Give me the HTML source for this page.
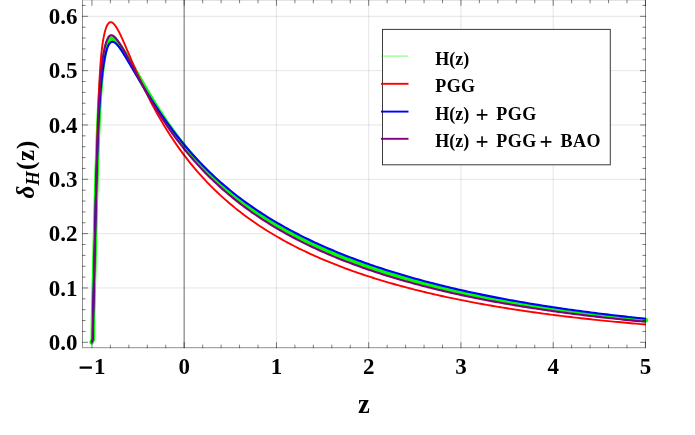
<!DOCTYPE html>
<html><head><meta charset="utf-8"><title>plot</title>
<style>html,body{margin:0;padding:0;background:#fff;overflow:hidden}body{width:695px;height:435px;position:relative;font-family:"Liberation Serif",serif}</style>
</head><body>
<svg width="695" height="435" viewBox="0 0 695 435" style="will-change:transform;position:absolute;left:0;top:0;font-family:'Liberation Serif',serif;font-weight:bold">
<rect width="695" height="435" fill="#fff"/>
<line x1="276.45" y1="0" x2="276.45" y2="347.7" stroke="#000" stroke-opacity="0.105" stroke-width="1"/>
<line x1="368.70" y1="0" x2="368.70" y2="347.7" stroke="#000" stroke-opacity="0.105" stroke-width="1"/>
<line x1="460.95" y1="0" x2="460.95" y2="347.7" stroke="#000" stroke-opacity="0.105" stroke-width="1"/>
<line x1="553.20" y1="0" x2="553.20" y2="347.7" stroke="#000" stroke-opacity="0.105" stroke-width="1"/>
<line x1="82.5" y1="287.97" x2="645.5" y2="287.97" stroke="#000" stroke-opacity="0.105" stroke-width="1"/>
<line x1="82.5" y1="233.64" x2="645.5" y2="233.64" stroke="#000" stroke-opacity="0.105" stroke-width="1"/>
<line x1="82.5" y1="179.31" x2="645.5" y2="179.31" stroke="#000" stroke-opacity="0.105" stroke-width="1"/>
<line x1="82.5" y1="124.98" x2="645.5" y2="124.98" stroke="#000" stroke-opacity="0.105" stroke-width="1"/>
<line x1="82.5" y1="70.65" x2="645.5" y2="70.65" stroke="#000" stroke-opacity="0.105" stroke-width="1"/>
<line x1="82.5" y1="16.32" x2="645.5" y2="16.32" stroke="#000" stroke-opacity="0.105" stroke-width="1"/>
<path d="M91.60,342.30 L92.80,339.60 L92.81,338.37 L92.84,336.46 L92.86,334.33 L92.89,332.00 L92.92,329.49 L92.95,326.81 L92.99,323.98 L93.02,321.02 L93.06,317.93 L93.10,314.72 L93.17,311.41 L93.26,308.00 L93.36,304.51 L93.45,300.93 L93.54,297.29 L93.64,293.58 L93.73,289.82 L93.83,286.01 L93.92,282.16 L94.01,278.27 L94.11,274.35 L94.20,270.42 L94.30,266.46 L94.39,262.49 L94.48,258.52 L94.58,254.54 L94.67,250.57 L94.76,246.60 L94.86,242.64 L94.95,238.71 L95.05,234.79 L95.14,230.89 L95.23,227.02 L95.33,223.18 L95.42,219.37 L95.51,215.59 L95.61,211.86 L95.70,208.16 L95.80,204.51 L95.89,200.90 L95.98,197.34 L96.08,193.83 L96.17,190.36 L96.27,186.95 L96.36,183.59 L96.45,180.28 L96.55,177.02 L96.64,173.82 L96.73,170.68 L96.83,167.59 L96.92,164.56 L97.02,161.59 L97.11,158.67 L97.20,155.82 L97.30,153.01 L97.39,150.27 L97.48,147.58 L97.80,139.02 L98.11,131.08 L98.42,123.73 L98.74,116.96 L99.05,110.72 L99.36,104.99 L99.68,99.72 L99.99,94.88 L100.30,90.43 L100.62,86.34 L100.93,82.57 L101.24,79.10 L101.56,75.88 L101.87,72.90 L102.18,70.14 L102.50,67.56 L102.81,65.16 L103.12,62.91 L103.44,60.81 L103.75,58.83 L104.06,56.98 L104.38,55.24 L104.69,53.61 L105.00,52.07 L105.32,50.64 L105.63,49.30 L105.94,48.04 L106.26,46.88 L106.57,45.80 L106.88,44.81 L107.20,43.90 L107.51,43.06 L107.82,42.31 L108.14,41.63 L108.45,41.03 L108.76,40.50 L109.08,40.03 L109.39,39.64 L109.70,39.30 L110.02,39.03 L110.33,38.81 L110.64,38.64 L110.96,38.53 L111.27,38.46 L111.58,38.44 L111.90,38.45 L112.21,38.51 L112.52,38.60 L112.84,38.72 L113.15,38.86 L113.46,39.04 L113.78,39.24 L114.09,39.46 L114.40,39.70 L114.72,39.96 L115.03,40.23 L115.34,40.52 L115.66,40.83 L115.97,41.15 L116.28,41.48 L116.60,41.82 L116.91,42.17 L117.22,42.53 L117.54,42.90 L117.85,43.27 L118.16,43.66 L118.48,44.05 L118.79,44.45 L119.10,44.86 L119.42,45.27 L119.73,45.69 L120.04,46.11 L120.36,46.54 L120.67,46.98 L120.98,47.42 L121.30,47.87 L121.61,48.32 L121.92,48.78 L122.24,49.24 L122.55,49.70 L122.86,50.17 L123.18,50.65 L123.49,51.12 L123.80,51.60 L124.12,52.09 L124.43,52.58 L124.74,53.07 L125.06,53.56 L125.37,54.06 L125.68,54.56 L126.00,55.07 L126.31,55.58 L126.62,56.08 L126.94,56.60 L127.25,57.11 L127.56,57.63 L127.88,58.15 L128.19,58.67 L128.50,59.19 L128.82,59.72 L129.13,60.24 L129.44,60.77 L129.76,61.30 L130.07,61.84 L130.38,62.37 L130.69,62.90 L131.01,63.44 L131.32,63.98 L131.63,64.52 L131.95,65.06 L132.26,65.60 L132.57,66.14 L132.89,66.68 L133.20,67.22 L133.51,67.77 L133.83,68.31 L134.14,68.86 L134.45,69.40 L134.77,69.95 L135.08,70.50 L135.39,71.04 L135.71,71.59 L136.02,72.14 L136.33,72.69 L136.65,73.24 L136.96,73.78 L137.27,74.33 L137.59,74.88 L137.90,75.43 L138.21,75.98 L138.53,76.53 L138.84,77.08 L139.15,77.62 L139.47,78.17 L139.78,78.72 L140.09,79.27 L140.41,79.81 L140.72,80.36 L141.03,80.91 L141.35,81.45 L141.66,82.00 L141.97,82.54 L142.29,83.09 L142.60,83.63 L142.91,84.17 L143.23,84.72 L143.54,85.26 L143.85,85.80 L144.17,86.34 L144.48,86.88 L144.79,87.42 L145.11,87.96 L145.42,88.50 L145.73,89.03 L146.05,89.57 L146.36,90.11 L146.67,90.64 L146.99,91.17 L147.30,91.71 L149.81,95.93 L152.31,100.09 L154.82,104.18 L157.32,108.19 L159.83,112.13 L162.33,115.98 L164.84,119.75 L167.34,123.43 L169.85,127.04 L172.36,130.56 L174.86,134.01 L177.37,137.37 L179.87,140.65 L182.38,143.86 L184.88,147.00 L187.39,150.06 L189.89,153.05 L192.40,155.97 L194.91,158.83 L197.41,161.62 L199.92,164.35 L202.42,167.01 L204.93,169.62 L207.43,172.17 L209.94,174.66 L212.45,177.10 L214.95,179.48 L217.46,181.82 L219.96,184.10 L222.47,186.34 L224.97,188.53 L227.48,190.68 L229.98,192.78 L232.49,194.84 L235.00,196.86 L237.50,198.84 L240.01,200.78 L242.51,202.69 L245.02,204.56 L247.52,206.39 L250.03,208.19 L252.53,209.95 L255.04,211.68 L257.55,213.39 L260.05,215.06 L262.56,216.70 L265.06,218.31 L267.57,219.89 L270.07,221.45 L272.58,222.98 L275.08,224.49 L277.59,225.97 L280.10,227.42 L282.60,228.85 L285.11,230.26 L287.61,231.64 L290.12,233.01 L292.62,234.35 L295.13,235.67 L297.64,236.97 L300.14,238.25 L302.65,239.51 L305.15,240.75 L307.66,241.97 L310.16,243.17 L312.67,244.36 L315.17,245.53 L317.68,246.68 L320.19,247.82 L322.69,248.93 L325.20,250.04 L327.70,251.12 L330.21,252.20 L332.71,253.25 L335.22,254.29 L337.72,255.32 L340.23,256.33 L342.74,257.33 L345.24,258.32 L347.75,259.29 L350.25,260.25 L352.76,261.20 L355.26,262.13 L357.77,263.05 L360.27,263.96 L362.78,264.86 L365.29,265.75 L367.79,266.62 L370.30,267.49 L372.80,268.34 L375.31,269.18 L377.81,270.01 L380.32,270.83 L382.82,271.64 L385.33,272.44 L387.84,273.23 L390.34,274.01 L392.85,274.78 L395.35,275.55 L397.86,276.30 L400.36,277.04 L402.87,277.77 L405.38,278.50 L407.88,279.21 L410.39,279.92 L412.89,280.62 L415.40,281.31 L417.90,281.99 L420.41,282.66 L422.91,283.33 L425.42,283.99 L427.93,284.64 L430.43,285.28 L432.94,285.92 L435.44,286.54 L437.95,287.16 L440.45,287.78 L442.96,288.38 L445.46,288.98 L447.97,289.57 L450.48,290.16 L452.98,290.73 L455.49,291.31 L457.99,291.87 L460.50,292.43 L463.00,292.98 L465.51,293.52 L468.01,294.06 L470.52,294.60 L473.03,295.12 L475.53,295.64 L478.04,296.16 L480.54,296.67 L483.05,297.17 L485.55,297.67 L488.06,298.16 L490.57,298.65 L493.07,299.13 L495.58,299.60 L498.08,300.07 L500.59,300.54 L503.09,301.00 L505.60,301.45 L508.10,301.90 L510.61,302.34 L513.12,302.78 L515.62,303.22 L518.13,303.65 L520.63,304.07 L523.14,304.49 L525.64,304.91 L528.15,305.32 L530.65,305.72 L533.16,306.12 L535.67,306.52 L538.17,306.91 L540.68,307.30 L543.18,307.69 L545.69,308.07 L548.19,308.44 L550.70,308.81 L553.20,309.18 L555.71,309.54 L558.22,309.90 L560.72,310.26 L563.23,310.61 L565.73,310.95 L568.24,311.30 L570.74,311.64 L573.25,311.97 L575.75,312.30 L578.26,312.63 L580.77,312.96 L583.27,313.28 L585.78,313.60 L588.28,313.91 L590.79,314.22 L593.29,314.53 L595.80,314.83 L598.31,315.13 L600.81,315.43 L603.32,315.72 L605.82,316.01 L608.33,316.30 L610.83,316.59 L613.34,316.87 L615.84,317.15 L618.35,317.42 L620.86,317.69 L623.36,317.96 L625.87,318.23 L628.37,318.49 L630.88,318.75 L633.38,319.01 L635.89,319.26 L638.39,319.51 L640.90,319.76 L643.41,320.01 L645.91,320.25" fill="none" stroke="#00ff00" stroke-width="4.5" stroke-linecap="round" stroke-linejoin="round"/>
<path d="M91.60,342.30 L92.80,339.60 L92.81,338.38 L92.84,336.49 L92.86,334.43 L92.89,332.21 L92.92,329.85 L92.95,327.36 L92.98,324.74 L93.01,322.01 L93.04,319.15 L93.08,316.19 L93.17,313.12 L93.26,309.95 L93.36,306.68 L93.45,303.32 L93.54,299.87 L93.64,296.33 L93.73,292.71 L93.83,289.01 L93.92,285.24 L94.01,281.40 L94.11,277.49 L94.20,273.53 L94.30,269.51 L94.39,265.43 L94.48,261.32 L94.58,257.16 L94.67,252.97 L94.76,248.74 L94.86,244.49 L94.95,240.22 L95.05,235.93 L95.14,231.63 L95.23,227.32 L95.33,223.01 L95.42,218.71 L95.51,214.41 L95.61,210.13 L95.70,205.86 L95.80,201.62 L95.89,197.40 L95.98,193.21 L96.08,189.06 L96.17,184.94 L96.27,180.87 L96.36,176.84 L96.45,172.86 L96.55,168.93 L96.64,165.05 L96.73,161.23 L96.83,157.48 L96.92,153.78 L97.02,150.15 L97.11,146.58 L97.20,143.08 L97.30,139.65 L97.39,136.29 L97.48,133.00 L97.80,122.55 L98.11,112.92 L98.42,104.12 L98.74,96.11 L99.05,88.87 L99.36,82.34 L99.68,76.48 L99.99,71.23 L100.30,66.52 L100.62,62.29 L100.93,58.50 L101.24,55.08 L101.56,52.00 L101.87,49.21 L102.18,46.66 L102.50,44.34 L102.81,42.22 L103.12,40.26 L103.44,38.46 L103.75,36.81 L104.06,35.27 L104.38,33.86 L104.69,32.55 L105.00,31.34 L105.32,30.22 L105.63,29.20 L105.94,28.26 L106.26,27.40 L106.57,26.62 L106.88,25.91 L107.20,25.28 L107.51,24.71 L107.82,24.20 L108.14,23.76 L108.45,23.37 L108.76,23.05 L109.08,22.77 L109.39,22.55 L109.70,22.38 L110.02,22.26 L110.33,22.18 L110.64,22.15 L110.96,22.16 L111.27,22.20 L111.58,22.29 L111.90,22.41 L112.21,22.57 L112.52,22.76 L112.84,22.98 L113.15,23.23 L113.46,23.51 L113.78,23.82 L114.09,24.16 L114.40,24.52 L114.72,24.90 L115.03,25.30 L115.34,25.73 L115.66,26.18 L115.97,26.64 L116.28,27.13 L116.60,27.63 L116.91,28.14 L117.22,28.68 L117.54,29.23 L117.85,29.79 L118.16,30.36 L118.48,30.95 L118.79,31.55 L119.10,32.16 L119.42,32.78 L119.73,33.41 L120.04,34.05 L120.36,34.70 L120.67,35.36 L120.98,36.02 L121.30,36.69 L121.61,37.37 L121.92,38.05 L122.24,38.74 L122.55,39.44 L122.86,40.14 L123.18,40.84 L123.49,41.55 L123.80,42.26 L124.12,42.98 L124.43,43.70 L124.74,44.42 L125.06,45.15 L125.37,45.87 L125.68,46.60 L126.00,47.34 L126.31,48.07 L126.62,48.80 L126.94,49.54 L127.25,50.28 L127.56,51.01 L127.88,51.75 L128.19,52.49 L128.50,53.23 L128.82,53.97 L129.13,54.71 L129.44,55.45 L129.76,56.18 L130.07,56.92 L130.38,57.66 L130.69,58.40 L131.01,59.13 L131.32,59.87 L131.63,60.60 L131.95,61.33 L132.26,62.07 L132.57,62.80 L132.89,63.53 L133.20,64.25 L133.51,64.98 L133.83,65.71 L134.14,66.43 L134.45,67.15 L134.77,67.87 L135.08,68.59 L135.39,69.31 L135.71,70.02 L136.02,70.73 L136.33,71.44 L136.65,72.15 L136.96,72.86 L137.27,73.56 L137.59,74.27 L137.90,74.97 L138.21,75.67 L138.53,76.36 L138.84,77.06 L139.15,77.75 L139.47,78.44 L139.78,79.12 L140.09,79.81 L140.41,80.49 L140.72,81.17 L141.03,81.85 L141.35,82.53 L141.66,83.20 L141.97,83.87 L142.29,84.54 L142.60,85.21 L142.91,85.87 L143.23,86.54 L143.54,87.20 L143.85,87.85 L144.17,88.51 L144.48,89.16 L144.79,89.81 L145.11,90.46 L145.42,91.11 L145.73,91.75 L146.05,92.39 L146.36,93.03 L146.67,93.66 L146.99,94.30 L147.30,94.93 L149.81,99.90 L152.31,104.72 L154.82,109.40 L157.32,113.95 L159.83,118.36 L162.33,122.64 L164.84,126.80 L167.34,130.84 L169.85,134.77 L172.36,138.59 L174.86,142.30 L177.37,145.91 L179.87,149.42 L182.38,152.84 L184.88,156.17 L187.39,159.41 L189.89,162.57 L192.40,165.64 L194.91,168.64 L197.41,171.56 L199.92,174.41 L202.42,177.19 L204.93,179.90 L207.43,182.54 L209.94,185.12 L212.45,187.64 L214.95,190.10 L217.46,192.51 L219.96,194.85 L222.47,197.15 L224.97,199.39 L227.48,201.58 L229.98,203.73 L232.49,205.83 L235.00,207.88 L237.50,209.89 L240.01,211.85 L242.51,213.78 L245.02,215.66 L247.52,217.50 L250.03,219.31 L252.53,221.08 L255.04,222.82 L257.55,224.52 L260.05,226.19 L262.56,227.82 L265.06,229.43 L267.57,231.00 L270.07,232.55 L272.58,234.06 L275.08,235.55 L277.59,237.01 L280.10,238.44 L282.60,239.85 L285.11,241.23 L287.61,242.59 L290.12,243.92 L292.62,245.24 L295.13,246.52 L297.64,247.79 L300.14,249.04 L302.65,250.26 L305.15,251.46 L307.66,252.65 L310.16,253.81 L312.67,254.96 L315.17,256.08 L317.68,257.19 L320.19,258.29 L322.69,259.36 L325.20,260.42 L327.70,261.46 L330.21,262.48 L332.71,263.49 L335.22,264.49 L337.72,265.47 L340.23,266.43 L342.74,267.38 L345.24,268.32 L347.75,269.24 L350.25,270.15 L352.76,271.04 L355.26,271.92 L357.77,272.79 L360.27,273.65 L362.78,274.50 L365.29,275.33 L367.79,276.15 L370.30,276.96 L372.80,277.76 L375.31,278.55 L377.81,279.32 L380.32,280.09 L382.82,280.85 L385.33,281.59 L387.84,282.33 L390.34,283.05 L392.85,283.77 L395.35,284.47 L397.86,285.17 L400.36,285.86 L402.87,286.54 L405.38,287.20 L407.88,287.87 L410.39,288.52 L412.89,289.16 L415.40,289.80 L417.90,290.42 L420.41,291.04 L422.91,291.65 L425.42,292.26 L427.93,292.85 L430.43,293.44 L432.94,294.02 L435.44,294.59 L437.95,295.16 L440.45,295.72 L442.96,296.27 L445.46,296.81 L447.97,297.35 L450.48,297.88 L452.98,298.41 L455.49,298.92 L457.99,299.44 L460.50,299.94 L463.00,300.44 L465.51,300.93 L468.01,301.42 L470.52,301.90 L473.03,302.37 L475.53,302.84 L478.04,303.31 L480.54,303.76 L483.05,304.22 L485.55,304.66 L488.06,305.10 L490.57,305.54 L493.07,305.97 L495.58,306.40 L498.08,306.82 L500.59,307.23 L503.09,307.64 L505.60,308.05 L508.10,308.45 L510.61,308.84 L513.12,309.23 L515.62,309.62 L518.13,310.00 L520.63,310.38 L523.14,310.75 L525.64,311.12 L528.15,311.48 L530.65,311.84 L533.16,312.20 L535.67,312.55 L538.17,312.89 L540.68,313.24 L543.18,313.58 L545.69,313.91 L548.19,314.24 L550.70,314.57 L553.20,314.89 L555.71,315.21 L558.22,315.52 L560.72,315.84 L563.23,316.14 L565.73,316.45 L568.24,316.75 L570.74,317.04 L573.25,317.34 L575.75,317.63 L578.26,317.91 L580.77,318.20 L583.27,318.48 L585.78,318.75 L588.28,319.03 L590.79,319.30 L593.29,319.57 L595.80,319.83 L598.31,320.09 L600.81,320.35 L603.32,320.60 L605.82,320.85 L608.33,321.10 L610.83,321.35 L613.34,321.59 L615.84,321.83 L618.35,322.07 L620.86,322.30 L623.36,322.54 L625.87,322.77 L628.37,322.99 L630.88,323.22 L633.38,323.44 L635.89,323.66 L638.39,323.87 L640.90,324.09 L643.41,324.30 L645.91,324.51" fill="none" stroke="#ff0000" stroke-width="1.9" stroke-linejoin="round"/>
<path d="M91.60,342.30 L92.80,339.60 L92.80,339.37 L92.82,337.71 L92.84,335.78 L92.87,333.62 L92.90,331.24 L92.93,328.66 L92.96,325.90 L93.00,322.98 L93.04,319.89 L93.08,316.66 L93.17,313.30 L93.26,309.82 L93.36,306.22 L93.45,302.53 L93.54,298.75 L93.64,294.89 L93.73,290.96 L93.83,286.97 L93.92,282.92 L94.01,278.84 L94.11,274.72 L94.20,270.57 L94.30,266.40 L94.39,262.23 L94.48,258.04 L94.58,253.86 L94.67,249.69 L94.76,245.53 L94.86,241.40 L94.95,237.29 L95.05,233.20 L95.14,229.16 L95.23,225.15 L95.33,221.19 L95.42,217.27 L95.51,213.41 L95.61,209.60 L95.70,205.84 L95.80,202.15 L95.89,198.51 L95.98,194.94 L96.08,191.43 L96.17,187.99 L96.27,184.61 L96.36,181.30 L96.45,178.06 L96.55,174.89 L96.64,171.78 L96.73,168.75 L96.83,165.78 L96.92,162.89 L97.02,160.06 L97.11,157.29 L97.20,154.60 L97.30,151.97 L97.39,149.40 L97.48,146.90 L97.80,138.99 L98.11,131.74 L98.42,125.09 L98.74,118.98 L99.05,113.37 L99.36,108.20 L99.68,103.43 L99.99,99.01 L100.30,94.91 L100.62,91.09 L100.93,87.52 L101.24,84.18 L101.56,81.05 L101.87,78.11 L102.18,75.34 L102.50,72.74 L102.81,70.28 L103.12,67.97 L103.44,65.80 L103.75,63.75 L104.06,61.83 L104.38,60.02 L104.69,58.33 L105.00,56.74 L105.32,55.26 L105.63,53.88 L105.94,52.59 L106.26,51.40 L106.57,50.29 L106.88,49.27 L107.20,48.33 L107.51,47.47 L107.82,46.68 L108.14,45.96 L108.45,45.32 L108.76,44.73 L109.08,44.21 L109.39,43.75 L109.70,43.34 L110.02,42.99 L110.33,42.69 L110.64,42.44 L110.96,42.23 L111.27,42.07 L111.58,41.95 L111.90,41.87 L112.21,41.83 L112.52,41.82 L112.84,41.84 L113.15,41.90 L113.46,41.99 L113.78,42.10 L114.09,42.25 L114.40,42.41 L114.72,42.60 L115.03,42.82 L115.34,43.05 L115.66,43.31 L115.97,43.58 L116.28,43.87 L116.60,44.18 L116.91,44.51 L117.22,44.85 L117.54,45.20 L117.85,45.56 L118.16,45.94 L118.48,46.33 L118.79,46.73 L119.10,47.14 L119.42,47.56 L119.73,47.98 L120.04,48.42 L120.36,48.86 L120.67,49.31 L120.98,49.77 L121.30,50.23 L121.61,50.70 L121.92,51.18 L122.24,51.66 L122.55,52.14 L122.86,52.63 L123.18,53.12 L123.49,53.62 L123.80,54.12 L124.12,54.62 L124.43,55.13 L124.74,55.64 L125.06,56.15 L125.37,56.66 L125.68,57.18 L126.00,57.69 L126.31,58.21 L126.62,58.74 L126.94,59.26 L127.25,59.78 L127.56,60.31 L127.88,60.83 L128.19,61.36 L128.50,61.89 L128.82,62.42 L129.13,62.95 L129.44,63.48 L129.76,64.01 L130.07,64.54 L130.38,65.07 L130.69,65.60 L131.01,66.13 L131.32,66.66 L131.63,67.19 L131.95,67.73 L132.26,68.26 L132.57,68.79 L132.89,69.32 L133.20,69.85 L133.51,70.39 L133.83,70.92 L134.14,71.45 L134.45,71.98 L134.77,72.51 L135.08,73.04 L135.39,73.57 L135.71,74.10 L136.02,74.62 L136.33,75.15 L136.65,75.68 L136.96,76.21 L137.27,76.73 L137.59,77.26 L137.90,77.78 L138.21,78.31 L138.53,78.83 L138.84,79.36 L139.15,79.88 L139.47,80.40 L139.78,80.92 L140.09,81.44 L140.41,81.96 L140.72,82.48 L141.03,83.00 L141.35,83.52 L141.66,84.03 L141.97,84.55 L142.29,85.06 L142.60,85.58 L142.91,86.09 L143.23,86.60 L143.54,87.11 L143.85,87.63 L144.17,88.13 L144.48,88.64 L144.79,89.15 L145.11,89.66 L145.42,90.17 L145.73,90.67 L146.05,91.18 L146.36,91.68 L146.67,92.18 L146.99,92.68 L147.30,93.18 L149.81,97.15 L152.31,101.06 L154.82,104.89 L157.32,108.66 L159.83,112.37 L162.33,116.00 L164.84,119.56 L167.34,123.05 L169.85,126.47 L172.36,129.82 L174.86,133.10 L177.37,136.32 L179.87,139.46 L182.38,142.55 L184.88,145.56 L187.39,148.51 L189.89,151.40 L192.40,154.23 L194.91,157.00 L197.41,159.71 L199.92,162.36 L202.42,164.96 L204.93,167.50 L207.43,169.99 L209.94,172.43 L212.45,174.82 L214.95,177.15 L217.46,179.45 L219.96,181.69 L222.47,183.89 L224.97,186.05 L227.48,188.16 L229.98,190.23 L232.49,192.26 L235.00,194.25 L237.50,196.21 L240.01,198.13 L242.51,200.01 L245.02,201.85 L247.52,203.67 L250.03,205.45 L252.53,207.19 L255.04,208.91 L257.55,210.60 L260.05,212.25 L262.56,213.88 L265.06,215.48 L267.57,217.05 L270.07,218.60 L272.58,220.12 L275.08,221.61 L277.59,223.08 L280.10,224.53 L282.60,225.96 L285.11,227.36 L287.61,228.74 L290.12,230.09 L292.62,231.43 L295.13,232.75 L297.64,234.04 L300.14,235.32 L302.65,236.58 L305.15,237.82 L307.66,239.04 L310.16,240.24 L312.67,241.43 L315.17,242.59 L317.68,243.75 L320.19,244.88 L322.69,246.00 L325.20,247.11 L327.70,248.20 L330.21,249.27 L332.71,250.33 L335.22,251.38 L337.72,252.41 L340.23,253.42 L342.74,254.43 L345.24,255.42 L347.75,256.40 L350.25,257.36 L352.76,258.32 L355.26,259.26 L357.77,260.19 L360.27,261.10 L362.78,262.01 L365.29,262.90 L367.79,263.78 L370.30,264.66 L372.80,265.52 L375.31,266.37 L377.81,267.21 L380.32,268.04 L382.82,268.86 L385.33,269.67 L387.84,270.47 L390.34,271.26 L392.85,272.04 L395.35,272.81 L397.86,273.57 L400.36,274.32 L402.87,275.07 L405.38,275.80 L407.88,276.53 L410.39,277.25 L412.89,277.96 L415.40,278.66 L417.90,279.36 L420.41,280.04 L422.91,280.72 L425.42,281.39 L427.93,282.05 L430.43,282.71 L432.94,283.35 L435.44,283.99 L437.95,284.62 L440.45,285.25 L442.96,285.87 L445.46,286.48 L447.97,287.08 L450.48,287.68 L452.98,288.27 L455.49,288.86 L457.99,289.43 L460.50,290.01 L463.00,290.57 L465.51,291.13 L468.01,291.68 L470.52,292.23 L473.03,292.77 L475.53,293.30 L478.04,293.83 L480.54,294.35 L483.05,294.87 L485.55,295.38 L488.06,295.88 L490.57,296.38 L493.07,296.88 L495.58,297.37 L498.08,297.85 L500.59,298.33 L503.09,298.80 L505.60,299.27 L508.10,299.73 L510.61,300.19 L513.12,300.64 L515.62,301.09 L518.13,301.53 L520.63,301.97 L523.14,302.40 L525.64,302.83 L528.15,303.25 L530.65,303.67 L533.16,304.09 L535.67,304.50 L538.17,304.90 L540.68,305.31 L543.18,305.70 L545.69,306.09 L548.19,306.48 L550.70,306.87 L553.20,307.25 L555.71,307.62 L558.22,307.99 L560.72,308.36 L563.23,308.73 L565.73,309.09 L568.24,309.44 L570.74,309.79 L573.25,310.14 L575.75,310.49 L578.26,310.83 L580.77,311.16 L583.27,311.50 L585.78,311.83 L588.28,312.15 L590.79,312.48 L593.29,312.80 L595.80,313.11 L598.31,313.42 L600.81,313.73 L603.32,314.04 L605.82,314.34 L608.33,314.64 L610.83,314.94 L613.34,315.23 L615.84,315.52 L618.35,315.81 L620.86,316.09 L623.36,316.37 L625.87,316.65 L628.37,316.92 L630.88,317.19 L633.38,317.46 L635.89,317.73 L638.39,317.99 L640.90,318.25 L643.41,318.51 L645.91,318.76" fill="none" stroke="#0000ff" stroke-width="2.1" stroke-linejoin="round"/>
<path d="M91.60,342.30 L92.80,339.60 L92.80,339.21 L92.83,337.38 L92.85,335.38 L92.88,333.24 L92.90,330.95 L92.93,328.52 L92.96,325.96 L92.99,323.29 L93.03,320.49 L93.06,317.59 L93.10,314.58 L93.17,311.48 L93.26,308.28 L93.36,304.99 L93.45,301.63 L93.54,298.18 L93.64,294.67 L93.73,291.09 L93.83,287.45 L93.92,283.76 L94.01,280.02 L94.11,276.23 L94.20,272.40 L94.30,268.54 L94.39,264.66 L94.48,260.74 L94.58,256.81 L94.67,252.86 L94.76,248.91 L94.86,244.94 L94.95,240.98 L95.05,237.02 L95.14,233.06 L95.23,229.12 L95.33,225.19 L95.42,221.28 L95.51,217.38 L95.61,213.52 L95.70,209.68 L95.80,205.87 L95.89,202.10 L95.98,198.36 L96.08,194.66 L96.17,191.00 L96.27,187.39 L96.36,183.82 L96.45,180.30 L96.55,176.82 L96.64,173.40 L96.73,170.03 L96.83,166.72 L96.92,163.45 L97.02,160.25 L97.11,157.10 L97.20,154.01 L97.30,150.98 L97.39,148.00 L97.48,145.09 L97.80,135.78 L98.11,127.14 L98.42,119.16 L98.74,111.81 L99.05,105.07 L99.36,98.91 L99.68,93.29 L99.99,88.17 L100.30,83.52 L100.62,79.28 L100.93,75.43 L101.24,71.92 L101.56,68.72 L101.87,65.79 L102.18,63.11 L102.50,60.65 L102.81,58.38 L103.12,56.29 L103.44,54.36 L103.75,52.56 L104.06,50.89 L104.38,49.34 L104.69,47.90 L105.00,46.56 L105.32,45.31 L105.63,44.15 L105.94,43.07 L106.26,42.08 L106.57,41.16 L106.88,40.32 L107.20,39.55 L107.51,38.86 L107.82,38.23 L108.14,37.67 L108.45,37.17 L108.76,36.74 L109.08,36.36 L109.39,36.05 L109.70,35.79 L110.02,35.58 L110.33,35.42 L110.64,35.31 L110.96,35.25 L111.27,35.22 L111.58,35.24 L111.90,35.30 L112.21,35.39 L112.52,35.51 L112.84,35.66 L113.15,35.84 L113.46,36.05 L113.78,36.28 L114.09,36.53 L114.40,36.80 L114.72,37.10 L115.03,37.41 L115.34,37.73 L115.66,38.08 L115.97,38.43 L116.28,38.81 L116.60,39.19 L116.91,39.59 L117.22,39.99 L117.54,40.41 L117.85,40.84 L118.16,41.28 L118.48,41.72 L118.79,42.18 L119.10,42.64 L119.42,43.11 L119.73,43.59 L120.04,44.08 L120.36,44.57 L120.67,45.07 L120.98,45.57 L121.30,46.08 L121.61,46.60 L121.92,47.12 L122.24,47.65 L122.55,48.18 L122.86,48.71 L123.18,49.25 L123.49,49.79 L123.80,50.34 L124.12,50.89 L124.43,51.45 L124.74,52.01 L125.06,52.57 L125.37,53.13 L125.68,53.70 L126.00,54.27 L126.31,54.84 L126.62,55.41 L126.94,55.99 L127.25,56.57 L127.56,57.15 L127.88,57.73 L128.19,58.31 L128.50,58.90 L128.82,59.48 L129.13,60.07 L129.44,60.66 L129.76,61.25 L130.07,61.84 L130.38,62.43 L130.69,63.02 L131.01,63.62 L131.32,64.21 L131.63,64.80 L131.95,65.40 L132.26,65.99 L132.57,66.59 L132.89,67.18 L133.20,67.78 L133.51,68.37 L133.83,68.97 L134.14,69.56 L134.45,70.16 L134.77,70.75 L135.08,71.34 L135.39,71.94 L135.71,72.53 L136.02,73.12 L136.33,73.72 L136.65,74.31 L136.96,74.90 L137.27,75.49 L137.59,76.08 L137.90,76.67 L138.21,77.26 L138.53,77.84 L138.84,78.43 L139.15,79.01 L139.47,79.60 L139.78,80.18 L140.09,80.77 L140.41,81.35 L140.72,81.93 L141.03,82.51 L141.35,83.09 L141.66,83.66 L141.97,84.24 L142.29,84.82 L142.60,85.39 L142.91,85.96 L143.23,86.53 L143.54,87.10 L143.85,87.67 L144.17,88.24 L144.48,88.81 L144.79,89.37 L145.11,89.94 L145.42,90.50 L145.73,91.06 L146.05,91.62 L146.36,92.18 L146.67,92.73 L146.99,93.29 L147.30,93.84 L149.81,98.23 L152.31,102.51 L154.82,106.70 L157.32,110.80 L159.83,114.79 L162.33,118.69 L164.84,122.50 L167.34,126.22 L169.85,129.84 L172.36,133.38 L174.86,136.83 L177.37,140.19 L179.87,143.48 L182.38,146.69 L184.88,149.82 L187.39,152.88 L189.89,155.86 L192.40,158.78 L194.91,161.63 L197.41,164.42 L199.92,167.14 L202.42,169.80 L204.93,172.40 L207.43,174.95 L209.94,177.44 L212.45,179.87 L214.95,182.26 L217.46,184.59 L219.96,186.88 L222.47,189.12 L224.97,191.31 L227.48,193.46 L229.98,195.56 L232.49,197.63 L235.00,199.65 L237.50,201.63 L240.01,203.58 L242.51,205.49 L245.02,207.36 L247.52,209.19 L250.03,211.00 L252.53,212.77 L255.04,214.50 L257.55,216.21 L260.05,217.88 L262.56,219.53 L265.06,221.15 L267.57,222.73 L270.07,224.29 L272.58,225.83 L275.08,227.34 L277.59,228.82 L280.10,230.28 L282.60,231.71 L285.11,233.12 L287.61,234.51 L290.12,235.87 L292.62,237.22 L295.13,238.54 L297.64,239.84 L300.14,241.12 L302.65,242.38 L305.15,243.62 L307.66,244.84 L310.16,246.05 L312.67,247.23 L315.17,248.40 L317.68,249.55 L320.19,250.68 L322.69,251.80 L325.20,252.90 L327.70,253.98 L330.21,255.05 L332.71,256.11 L335.22,257.14 L337.72,258.17 L340.23,259.18 L342.74,260.17 L345.24,261.15 L347.75,262.12 L350.25,263.08 L352.76,264.02 L355.26,264.95 L357.77,265.86 L360.27,266.77 L362.78,267.66 L365.29,268.54 L367.79,269.41 L370.30,270.26 L372.80,271.11 L375.31,271.94 L377.81,272.77 L380.32,273.58 L382.82,274.38 L385.33,275.17 L387.84,275.95 L390.34,276.73 L392.85,277.49 L395.35,278.24 L397.86,278.98 L400.36,279.72 L402.87,280.44 L405.38,281.16 L407.88,281.86 L410.39,282.56 L412.89,283.25 L415.40,283.93 L417.90,284.60 L420.41,285.26 L422.91,285.92 L425.42,286.56 L427.93,287.20 L430.43,287.84 L432.94,288.46 L435.44,289.08 L437.95,289.68 L440.45,290.29 L442.96,290.88 L445.46,291.47 L447.97,292.05 L450.48,292.62 L452.98,293.19 L455.49,293.75 L457.99,294.30 L460.50,294.85 L463.00,295.39 L465.51,295.92 L468.01,296.45 L470.52,296.97 L473.03,297.48 L475.53,297.99 L478.04,298.49 L480.54,298.99 L483.05,299.48 L485.55,299.97 L488.06,300.45 L490.57,300.92 L493.07,301.39 L495.58,301.85 L498.08,302.31 L500.59,302.76 L503.09,303.21 L505.60,303.65 L508.10,304.09 L510.61,304.52 L513.12,304.94 L515.62,305.37 L518.13,305.78 L520.63,306.19 L523.14,306.60 L525.64,307.00 L528.15,307.40 L530.65,307.80 L533.16,308.19 L535.67,308.57 L538.17,308.95 L540.68,309.33 L543.18,309.70 L545.69,310.06 L548.19,310.43 L550.70,310.79 L553.20,311.14 L555.71,311.49 L558.22,311.84 L560.72,312.18 L563.23,312.52 L565.73,312.85 L568.24,313.19 L570.74,313.51 L573.25,313.84 L575.75,314.16 L578.26,314.47 L580.77,314.79 L583.27,315.10 L585.78,315.40 L588.28,315.70 L590.79,316.00 L593.29,316.30 L595.80,316.59 L598.31,316.88 L600.81,317.16 L603.32,317.45 L605.82,317.72 L608.33,318.00 L610.83,318.27 L613.34,318.54 L615.84,318.81 L618.35,319.07 L620.86,319.33 L623.36,319.59 L625.87,319.85 L628.37,320.10 L630.88,320.35 L633.38,320.59 L635.89,320.84 L638.39,321.08 L640.90,321.32 L643.41,321.55 L645.91,321.78" fill="none" stroke="#800080" stroke-width="2.1" stroke-linejoin="round"/>
<line x1="184.20" y1="0" x2="184.20" y2="347.7" stroke="#000" stroke-opacity="0.40" stroke-width="1.5"/>
<rect x="82.5" y="-0.25" width="563.0" height="347.95" fill="none" stroke="#000" stroke-opacity="0.44" stroke-width="1"/>
<path d="M91.95,348.2v-6.0 M91.95,-0.75v6.5 M110.40,348.2v-3.5 M110.40,-0.75v4.0 M128.85,348.2v-3.5 M128.85,-0.75v4.0 M147.30,348.2v-3.5 M147.30,-0.75v4.0 M165.75,348.2v-3.5 M165.75,-0.75v4.0 M184.20,348.2v-6.0 M184.20,-0.75v6.5 M202.65,348.2v-3.5 M202.65,-0.75v4.0 M221.10,348.2v-3.5 M221.10,-0.75v4.0 M239.55,348.2v-3.5 M239.55,-0.75v4.0 M258.00,348.2v-3.5 M258.00,-0.75v4.0 M276.45,348.2v-6.0 M276.45,-0.75v6.5 M294.90,348.2v-3.5 M294.90,-0.75v4.0 M313.35,348.2v-3.5 M313.35,-0.75v4.0 M331.80,348.2v-3.5 M331.80,-0.75v4.0 M350.25,348.2v-3.5 M350.25,-0.75v4.0 M368.70,348.2v-6.0 M368.70,-0.75v6.5 M387.15,348.2v-3.5 M387.15,-0.75v4.0 M405.60,348.2v-3.5 M405.60,-0.75v4.0 M424.05,348.2v-3.5 M424.05,-0.75v4.0 M442.50,348.2v-3.5 M442.50,-0.75v4.0 M460.95,348.2v-6.0 M460.95,-0.75v6.5 M479.40,348.2v-3.5 M479.40,-0.75v4.0 M497.85,348.2v-3.5 M497.85,-0.75v4.0 M516.30,348.2v-3.5 M516.30,-0.75v4.0 M534.75,348.2v-3.5 M534.75,-0.75v4.0 M553.20,348.2v-6.0 M553.20,-0.75v6.5 M571.65,348.2v-3.5 M571.65,-0.75v4.0 M590.10,348.2v-3.5 M590.10,-0.75v4.0 M608.55,348.2v-3.5 M608.55,-0.75v4.0 M627.00,348.2v-3.5 M627.00,-0.75v4.0 M645.45,348.2v-6.0 M645.45,-0.75v6.5 M82.0,342.30h6.0 M646.0,342.30h-6.0 M82.0,331.43h3.6 M646.0,331.43h-3.6 M82.0,320.57h3.6 M646.0,320.57h-3.6 M82.0,309.70h3.6 M646.0,309.70h-3.6 M82.0,298.84h3.6 M646.0,298.84h-3.6 M82.0,287.97h6.0 M646.0,287.97h-6.0 M82.0,277.10h3.6 M646.0,277.10h-3.6 M82.0,266.24h3.6 M646.0,266.24h-3.6 M82.0,255.37h3.6 M646.0,255.37h-3.6 M82.0,244.51h3.6 M646.0,244.51h-3.6 M82.0,233.64h6.0 M646.0,233.64h-6.0 M82.0,222.77h3.6 M646.0,222.77h-3.6 M82.0,211.91h3.6 M646.0,211.91h-3.6 M82.0,201.04h3.6 M646.0,201.04h-3.6 M82.0,190.18h3.6 M646.0,190.18h-3.6 M82.0,179.31h6.0 M646.0,179.31h-6.0 M82.0,168.44h3.6 M646.0,168.44h-3.6 M82.0,157.58h3.6 M646.0,157.58h-3.6 M82.0,146.71h3.6 M646.0,146.71h-3.6 M82.0,135.85h3.6 M646.0,135.85h-3.6 M82.0,124.98h6.0 M646.0,124.98h-6.0 M82.0,114.11h3.6 M646.0,114.11h-3.6 M82.0,103.25h3.6 M646.0,103.25h-3.6 M82.0,92.38h3.6 M646.0,92.38h-3.6 M82.0,81.52h3.6 M646.0,81.52h-3.6 M82.0,70.65h6.0 M646.0,70.65h-6.0 M82.0,59.78h3.6 M646.0,59.78h-3.6 M82.0,48.92h3.6 M646.0,48.92h-3.6 M82.0,38.05h3.6 M646.0,38.05h-3.6 M82.0,27.19h3.6 M646.0,27.19h-3.6 M82.0,16.32h6.0 M646.0,16.32h-6.0 M82.0,5.45h3.6 M646.0,5.45h-3.6" fill="none" stroke="#000" stroke-opacity="0.5" stroke-width="1"/>
<text x="77.5" y="350.10" font-size="23" text-anchor="end">0.0</text>
<text x="77.5" y="295.77" font-size="23" text-anchor="end">0.1</text>
<text x="77.5" y="241.44" font-size="23" text-anchor="end">0.2</text>
<text x="77.5" y="187.11" font-size="23" text-anchor="end">0.3</text>
<text x="77.5" y="132.78" font-size="23" text-anchor="end">0.4</text>
<text x="77.5" y="78.45" font-size="23" text-anchor="end">0.5</text>
<text x="77.5" y="24.12" font-size="23" text-anchor="end">0.6</text>
<text x="184.20" y="374.4" font-size="23" text-anchor="middle">0</text>
<text x="276.45" y="374.4" font-size="23" text-anchor="middle">1</text>
<text x="368.70" y="374.4" font-size="23" text-anchor="middle">2</text>
<text x="460.95" y="374.4" font-size="23" text-anchor="middle">3</text>
<text x="553.20" y="374.4" font-size="23" text-anchor="middle">4</text>
<text x="645.45" y="374.4" font-size="23" text-anchor="middle">5</text>
<rect x="79.6" y="366.45" width="12.3" height="2.3" fill="#000"/>
<text x="99.7" y="374.4" font-size="23" text-anchor="middle">1</text>
<text x="363.9" y="412.9" font-size="26.5" text-anchor="middle">z</text>
<text transform="translate(34.3,198.5) rotate(-90)" font-size="25"><tspan font-style="italic">δ</tspan><tspan font-style="italic" font-size="18.5" dy="4.6" dx="0.3">H</tspan><tspan dy="-4.6" dx="0.9" letter-spacing="0.8">(z)</tspan></text>
<rect x="382.5" y="29.4" width="227.8" height="135.4" fill="#fff" stroke="#3a3a3a" stroke-width="1"/>
<line x1="381" y1="56.1" x2="408.5" y2="56.1" stroke="#00ff00" stroke-width="0.8" stroke-opacity="0.7"/>
<line x1="381" y1="83.8" x2="408.5" y2="83.8" stroke="#ff0000" stroke-width="1.9" stroke-opacity="1"/>
<line x1="381" y1="111.6" x2="408.5" y2="111.6" stroke="#0000ff" stroke-width="1.9" stroke-opacity="1"/>
<line x1="381" y1="138.8" x2="408.5" y2="138.8" stroke="#800080" stroke-width="1.9" stroke-opacity="1"/>
<text x="435.2" y="64.9" font-size="18">H(z)</text>
<text x="435.2" y="92.4" font-size="18" letter-spacing="0.45">PGG</text>
<text x="435.2" y="119.8" font-size="18">H(z)</text><text x="475.4" y="122.2" font-size="23">+</text><text x="496.3" y="119.8" font-size="18" letter-spacing="0.45">PGG</text>
<text x="435.2" y="147.0" font-size="18">H(z)</text><text x="475.4" y="149.4" font-size="23">+</text><text x="496.3" y="147.0" font-size="18" letter-spacing="0.45">PGG</text><text x="539.45" y="149.4" font-size="23">+</text><text x="560.5" y="147.0" font-size="18" letter-spacing="0.5">BAO</text>
</svg>
</body></html>
